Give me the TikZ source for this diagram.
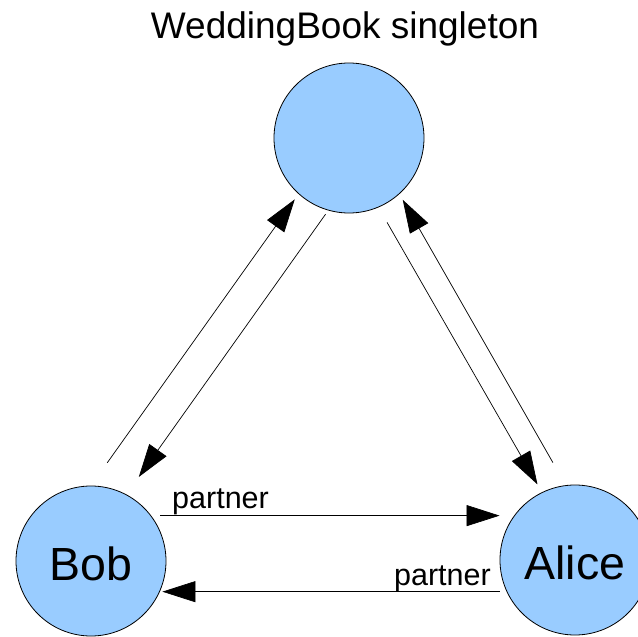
\documentclass[tikz,border=0pt]{standalone}
\usepackage{fontspec}
\setmainfont{Liberation Sans}
\usepackage{xcolor}
\usetikzlibrary{arrows.meta, positioning}

\definecolor{objblue}{RGB}{153,204,255}

\begin{document}
\begin{tikzpicture}[x=1pt, y=-1pt, obj/.style={circle, draw, line width=0.8pt, fill=objblue, minimum size=150pt, inner sep=0pt, text height=39pt, text depth=0pt, font=\fontsize{46.5}{50}\selectfont}, link/.style={-{Triangle[length=33pt, width=21pt]}, line width=0.7pt}, lbl/.style={inner sep=0pt, font=\fontsize{30.5}{34}\selectfont}]

            \useasboundingbox (0,0) rectangle (638,637);

            \node[obj] (book) at (349,138) {};
            \node[obj] (bob) at (91,561) {Bob};
            \node[obj] (alice) at (575,560) {Alice};
            \node[inner sep=0pt, anchor=base, font=\fontsize{37}{40}\selectfont] (title) at (345,38) {WeddingBook singleton};

            \path[link]
            (bob.90) edge[shorten <=28pt, shorten >=6.5pt] (book.228)
            (book.254) edge[shorten <=4.6pt, shorten >=21.4pt] (bob.62.5)
            (book.293) edge[shorten <=17.3pt, shorten >=9pt] (alice.116.5)
            (alice.97) edge[shorten <=26pt, shorten >=6.6pt] (book.312.5)
            (bob.37) edge[shorten <=9pt] (bob.37 -| alice.west)
            (alice.west |- bob.-24) edge[shorten >=2.5pt] (bob.-24);

            \node[lbl, anchor=base west] (p1) at (172,508) {partner};
            \node[lbl, anchor=base east] (p2) at (491,585) {partner};

        \end{tikzpicture}
\end{document}
